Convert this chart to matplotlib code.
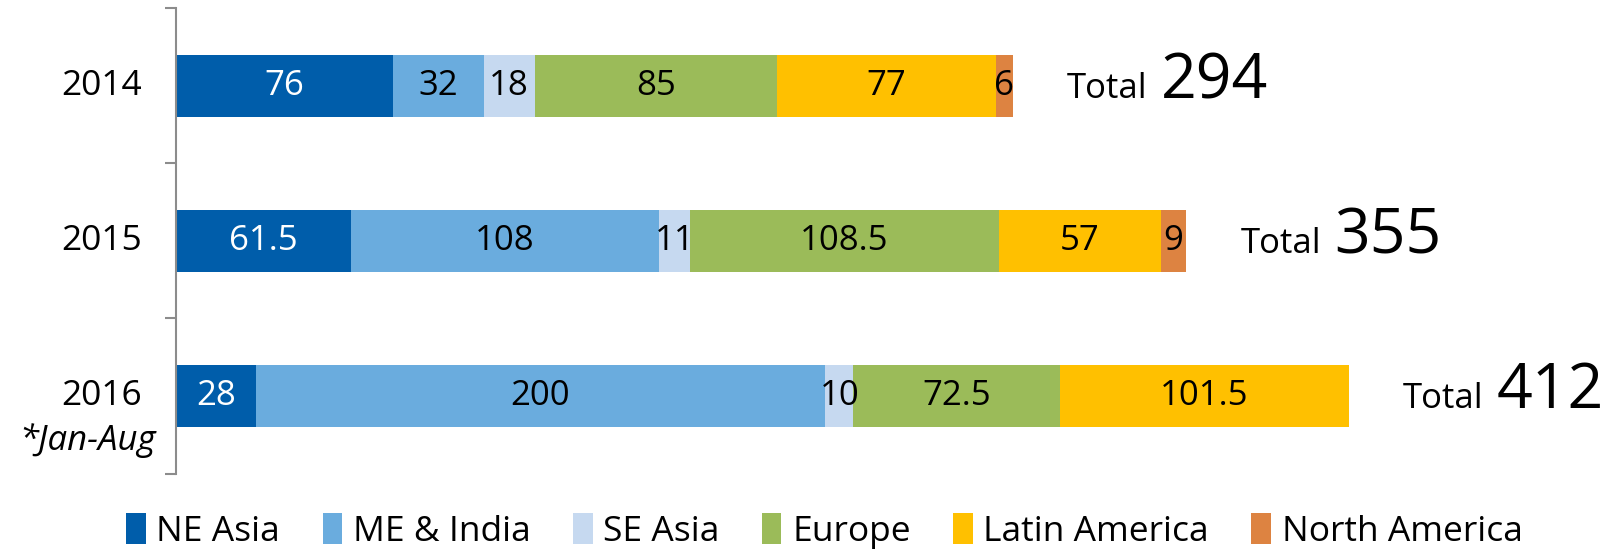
import matplotlib.pyplot as plt

years = ['2014', '2015', '2016']
regions = ['NE Asia', 'ME & India', 'SE Asia', 'Europe', 'Latin America', 'North America']
ne_asia = [76, 61.5, 28]
me_india = [32, 108, 200]
se_asia = [18, 11, 10]
europe = [85, 108.5, 72.5]
latin_america = [77, 57, 101.5]
north_america = [6, 9, 0]
totals = [294, 355, 412]

colors = ['#005DAA', '#6AACDE', '#C6D9F0', '#9BBB59', '#FFC000', '#DD8341']
label_colors = ['white', 'black', 'black', 'black', 'black', 'black']

plt.rcParams['font.family'] = ['Open Sans', 'DejaVu Sans']

fig = plt.figure(figsize=(16.07, 5.5), dpi=100)
ax = fig.add_axes([0.1097, 0.139, 0.88, 0.846])

series = [ne_asia, me_india, se_asia, europe, latin_america, north_america]
ypos = list(range(len(years)))
left = [0.0] * len(years)
for vals, name, col, lc in zip(series, regions, colors, label_colors):
    ax.barh(ypos, vals, left=left, height=0.4, color=col, label=name)
    for i, v in enumerate(vals):
        if v > 0:
            ax.text(left[i] + v / 2, ypos[i], '%g' % v, ha='center', va='center',
                    fontsize=25, color=lc)
    left = [l + v for l, v in zip(left, vals)]

ax.set_xlim(0, 497)
ax.set_ylim(2.5, -0.5)
ax.set_xticks([])
for s in ['top', 'right', 'bottom']:
    ax.spines[s].set_visible(False)
ax.spines['left'].set_color('#8c8c8c')
ax.spines['left'].set_linewidth(1.5)
ax.set_yticks([-0.5, 0.5, 1.5, 2.5])
ax.set_yticklabels([])
ax.tick_params(axis='y', length=8, width=1.5, color='#8c8c8c', direction='out')

# category labels
for i, y in enumerate(years):
    ax.annotate(y, xy=(0, i), xycoords=('axes fraction', 'data'),
                xytext=(-34, 0), textcoords='offset pixels',
                ha='right', va='center', fontsize=25.5)
ax.annotate('*Jan-Aug', xy=(0, 2), xycoords=('axes fraction', 'data'),
            xytext=(-20, -45), textcoords='offset pixels',
            ha='right', va='center', fontsize=25, style='italic')

# totals
fig.canvas.draw()
renderer = fig.canvas.get_renderer()
for i, t in enumerate(totals):
    tt = ax.text(t + 19, i + 0.08, 'Total', ha='left', va='baseline', fontsize=25)
    bb = tt.get_window_extent(renderer)
    ax.annotate(str(t), xy=(t + 19, i + 0.08), xycoords='data',
                xytext=(bb.width + 13, 0), textcoords='offset pixels',
                ha='left', va='baseline', fontsize=45)

fig.legend(loc='center', bbox_to_anchor=(0.513, 0.035), ncol=6, frameon=False,
           fontsize=25.5, handlelength=0.55, handleheight=1.0, handletextpad=0.3,
           columnspacing=1.2)

fig.savefig('out.png', dpi=100)
